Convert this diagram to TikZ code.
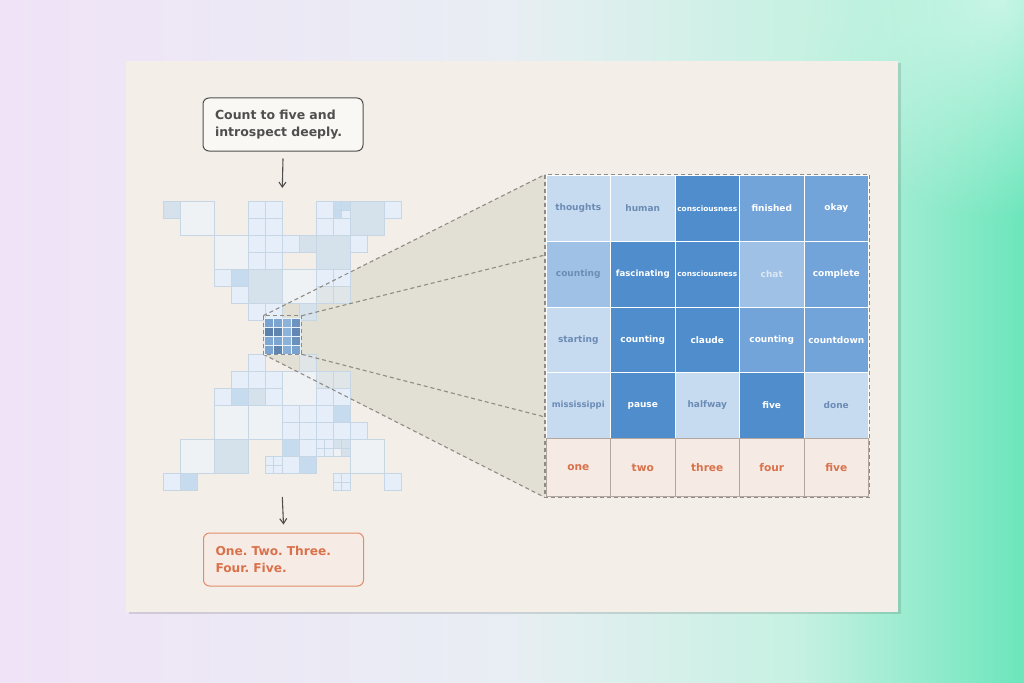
\documentclass[tikz,border=0pt]{standalone}
\usepackage{fontspec}
\setmainfont{DejaVu Sans}
\usetikzlibrary{arrows.meta,fadings}
\frenchspacing

\definecolor{lav}{HTML}{F0E3F7}
\definecolor{midwash}{HTML}{E8EEF3}
\definecolor{mintlt}{HTML}{C6F1E2}
\definecolor{mint}{HTML}{6CE6BC}
\definecolor{cardbg}{HTML}{F3EFE8}
\definecolor{vlcol}{HTML}{EEF2F5}
\definecolor{lbcol}{HTML}{E6EFF9}
\definecolor{gbcol}{HTML}{D5E1EB}
\definecolor{bcol}{HTML}{C7DBEF}
\definecolor{grcol}{HTML}{E0E5E7}
\definecolor{mosline}{HTML}{C6D6E5}
\definecolor{wlight}{HTML}{C6DAF0}
\definecolor{wmidl}{HTML}{A0C1E6}
\definecolor{wmid}{HTML}{72A4DA}
\definecolor{wdark}{HTML}{4F8DCC}
\definecolor{wtext}{HTML}{6B8CB5}
\definecolor{chattext}{HTML}{DCE8F4}
\definecolor{numfill}{HTML}{F6EBE4}
\definecolor{numline}{HTML}{B3A69F}
\definecolor{numtext}{HTML}{D9714B}
\definecolor{zoomfill}{HTML}{E2DFD4}
\definecolor{dashcol}{HTML}{8E8C88}
\definecolor{inkgray}{HTML}{4F4F4F}
\definecolor{outline}{HTML}{E08D6B}
\definecolor{outfill}{HTML}{F7ECE5}
\definecolor{promptfill}{HTML}{FAF8F4}
\definecolor{lensa}{HTML}{79A2CF}
\definecolor{lensb}{HTML}{8CB2DA}
\definecolor{lensc}{HTML}{5C81AB}
\definecolor{lensd}{HTML}{6A91BC}

\pgfdeclarehorizontalshading{bgwash}{100bp}{color(0bp)=(lav); color(25bp)=(lav);
  color(50bp)=(midwash); color(64bp)=(mintlt); color(75bp)=(mint); color(100bp)=(mint)}
\tikzfading[name=glowfade, inner color=transparent!0, outer color=transparent!100]

\begin{document}
\begin{tikzpicture}[x=1pt,y=-1pt,
  mos/.style={draw=mosline,line width=0.7pt},
  vl/.style={mos,fill=vlcol}, lb/.style={mos,fill=lbcol}, gb/.style={mos,fill=gbcol},
  bl/.style={mos,fill=bcol}, gr/.style={mos,fill=grcol},
  lens/.style={draw=white!85!lensa,line width=0.6pt},
  zoomline/.style={draw=dashcol,line width=1.1pt,dash pattern=on 4pt off 3pt},
  word/.style={minimum width=64.5pt,minimum height=65.7pt,inner sep=0pt,draw=white,
    line width=0.8pt,font=\fontsize{9}{11}\selectfont\bfseries},
  wl/.style={word,fill=wlight,text=wtext}, wml/.style={word,fill=wmidl,text=wtext},
  wm/.style={word,fill=wmid,text=white}, wd/.style={word,fill=wdark,text=white},
  narrow/.style={font=\fontsize{7.4}{9}\selectfont\bfseries},
  num/.style={word,minimum height=58.4pt,fill=numfill,draw=numline,text=numtext,
    font=\fontsize{10.6}{12}\selectfont\bfseries},
  prompt/.style={draw=inkgray,line width=1pt,rounded corners=6pt,fill=promptfill,
    text=inkgray,font=\fontsize{12.5}{16.5}\selectfont\bfseries,align=left,
    text width=136pt,inner xsep=12pt,minimum height=53pt},
  answer/.style={prompt,draw=outline,fill=outfill,text=numtext,
    font=\fontsize{12.2}{16.5}\selectfont\bfseries},
  flow/.style={draw=inkgray,line width=1.1pt,-{Straight Barb[length=5pt,width=7pt]}}]
\useasboundingbox (0,0) rectangle (1024,682);
\shade[shading=bgwash] (0,0) rectangle (1024,682);
\fill[white,opacity=0.6,path fading=glowfade] (1000,0) circle (220);

% card
\fill[black,opacity=0.12] (128.5,63) rectangle (900.5,614);
\fill[cardbg] (126,60.7) rectangle (898.3,611.7);

\coordinate (lensnw) at (263.3,315.7);
\coordinate (lensne) at (301.7,315.7);
\coordinate (lenssw) at (263.3,354.3);
\coordinate (lensse) at (301.7,354.3);
\coordinate (framenw) at (545,174.5);
\coordinate (framese) at (869.5,497.5);
\coordinate (framesw) at (545,497.5);
\coordinate (frameup) at (545,255);
\coordinate (framelo) at (545,417);
\coordinate (mostop) at (282.3,188);
\coordinate (mosbot) at (282.3,497);

\fill[zoomfill] (lensnw) -- (framenw) -- (framesw) -- (lenssw) -- cycle;

% mosaic
\begin{scope}[shift={(163.3,201.7)},x=17pt,y=-17pt]
\draw[gb] (0,0) rectangle ++(1,1);
\draw[vl] (1,0) rectangle ++(2,2);
\draw[lb] (5,0) rectangle ++(1,1);
\draw[lb] (6,0) rectangle ++(1,1);
\draw[lb] (9,0) rectangle ++(1,1);
\draw[bl] (10,0) rectangle ++(.5,.5);
\draw[bl] (10.5,0) rectangle ++(.5,.5);
\draw[bl] (10,.5) rectangle ++(.5,.5);
\draw[lb] (10.5,.5) rectangle ++(.5,.5);
\draw[gb] (11,0) rectangle ++(2,2);
\draw[lb] (13,0) rectangle ++(1,1);
\draw[lb] (5,1) rectangle ++(1,1);
\draw[lb] (6,1) rectangle ++(1,1);
\draw[lb] (9,1) rectangle ++(1,1);
\draw[lb] (10,1) rectangle ++(1,1);
\draw[vl] (3,2) rectangle ++(2,2);
\draw[lb] (5,2) rectangle ++(1,1);
\draw[lb] (6,2) rectangle ++(1,1);
\draw[lb] (7,2) rectangle ++(1,1);
\draw[gb] (8,2) rectangle ++(1,1);
\draw[gb] (9,2) rectangle ++(2,2);
\draw[lb] (11,2) rectangle ++(1,1);
\draw[lb] (5,3) rectangle ++(1,1);
\draw[lb] (6,3) rectangle ++(1,1);
\draw[lb] (3,4) rectangle ++(1,1);
\draw[bl] (4,4) rectangle ++(1,1);
\draw[gb] (5,4) rectangle ++(2,2);
\draw[vl] (7,4) rectangle ++(2,2);
\draw[lb] (9,4) rectangle ++(1,1);
\draw[lb] (10,4) rectangle ++(1,1);
\draw[lb] (4,5) rectangle ++(1,1);
\draw[gr] (9,5) rectangle ++(1,1);
\draw[gr] (10,5) rectangle ++(1,1);
\draw[lb] (5,6) rectangle ++(1,1);
\draw[lb] (6,6) rectangle ++(1,1);
\draw[gb] (8,6) rectangle ++(1,1);
% lower half
\draw[lb] (5,9) rectangle ++(1,1);
\draw[gr] (8,9) rectangle ++(1,1);
\draw[lb] (4,10) rectangle ++(1,1);
\draw[lb] (5,10) rectangle ++(1,1);
\draw[lb] (6,10) rectangle ++(1,1);
\draw[vl] (7,10) rectangle ++(2,2);
\draw[gr] (9,10) rectangle ++(1,1);
\draw[gr] (10,10) rectangle ++(1,1);
\draw[lb] (3,11) rectangle ++(1,1);
\draw[bl] (4,11) rectangle ++(1,1);
\draw[gb] (5,11) rectangle ++(1,1);
\draw[lb] (6,11) rectangle ++(1,1);
\draw[lb] (9,11) rectangle ++(1,1);
\draw[lb] (10,11) rectangle ++(1,1);
\draw[vl] (3,12) rectangle ++(2,2);
\draw[vl] (5,12) rectangle ++(2,2);
\draw[lb] (7,12) rectangle ++(1,1);
\draw[lb] (8,12) rectangle ++(1,1);
\draw[lb] (9,12) rectangle ++(1,1);
\draw[bl] (10,12) rectangle ++(1,1);
\draw[lb] (7,13) rectangle ++(1,1);
\draw[lb] (8,13) rectangle ++(1,1);
\draw[lb] (9,13) rectangle ++(1,1);
\draw[lb] (10,13) rectangle ++(1,1);
\draw[lb] (11,13) rectangle ++(1,1);
\draw[vl] (1,14) rectangle ++(2,2);
\draw[gb] (3,14) rectangle ++(2,2);
\draw[bl] (7,14) rectangle ++(1,1);
\draw[lb] (8,14) rectangle ++(1,1);
\draw[lb] (9,14) rectangle ++(.5,.5);
\draw[lb] (9.5,14) rectangle ++(.5,.5);
\draw[lb] (9,14.5) rectangle ++(.5,.5);
\draw[lb] (9.5,14.5) rectangle ++(.5,.5);
\draw[gb] (10,14) rectangle ++(.5,.5);
\draw[gb] (10.5,14) rectangle ++(.5,.5);
\draw[vl] (10,14.5) rectangle ++(.5,.5);
\draw[gb] (10.5,14.5) rectangle ++(.5,.5);
\draw[vl] (11,14) rectangle ++(2,2);
\draw[lb] (6,15) rectangle ++(.5,.5);
\draw[lb] (6.5,15) rectangle ++(.5,.5);
\draw[lb] (6,15.5) rectangle ++(.5,.5);
\draw[lb] (6.5,15.5) rectangle ++(.5,.5);
\draw[lb] (7,15) rectangle ++(1,1);
\draw[bl] (8,15) rectangle ++(1,1);
\draw[lb] (0,16) rectangle ++(1,1);
\draw[bl] (1,16) rectangle ++(1,1);
\draw[lb] (10,16) rectangle ++(.5,.5);
\draw[lb] (10.5,16) rectangle ++(.5,.5);
\draw[lb] (10,16.5) rectangle ++(.5,.5);
\draw[lb] (10.5,16.5) rectangle ++(.5,.5);
\draw[lb] (13,16) rectangle ++(1,1);
\end{scope}

% zoom rays
\draw[zoomline] (lensnw) -- (framenw);
\draw[zoomline] (lensne) -- (frameup);
\draw[zoomline] (lensse) -- (framelo);
\draw[zoomline] (lenssw) -- (framesw);

% lens grid
\begin{scope}[shift={(264.55,318.75)},x=8.875pt,y=-8.875pt]
\draw[lens,fill=lensa] (0,0) rectangle ++(1,1);
\draw[lens,fill=lensa!90!lensb] (1,0) rectangle ++(1,1);
\draw[lens,fill=lensb] (2,0) rectangle ++(1,1);
\draw[lens,fill=lensd!80!lensa] (3,0) rectangle ++(1,1);
\draw[lens,fill=lensc] (0,1) rectangle ++(1,1);
\draw[lens,fill=lensc!90!lensa] (1,1) rectangle ++(1,1);
\draw[lens,fill=lensb] (2,1) rectangle ++(1,1);
\draw[lens,fill=lensc!60!lensd] (3,1) rectangle ++(1,1);
\draw[lens,fill=lensa!95!white] (0,2) rectangle ++(1,1);
\draw[lens,fill=lensa!80!lensb] (1,2) rectangle ++(1,1);
\draw[lens,fill=lensb] (2,2) rectangle ++(1,1);
\draw[lens,fill=lensd] (3,2) rectangle ++(1,1);
\draw[lens,fill=lensa!90!lensb] (0,3) rectangle ++(1,1);
\draw[lens,fill=lensc!85!lensa] (1,3) rectangle ++(1,1);
\draw[lens,fill=lensb!80!lensa] (2,3) rectangle ++(1,1);
\draw[lens,fill=lensa] (3,3) rectangle ++(1,1);
\end{scope}
\draw[zoomline] (lensnw) rectangle (lensse);

% word grid
\node[wl] (w11) at (578.25,208.35) {thoughts};
\node[wl] (w12) at (642.75,208.35) {human};
\node[wd,narrow] (w13) at (707.25,208.35) {consciousness};
\node[wm] (w14) at (771.75,208.35) {finished};
\node[wm] (w15) at (836.25,208.35) {okay};
\node[wml] (w21) at (578.25,274.05) {counting};
\node[wd,font=\fontsize{8.6}{10}\selectfont\bfseries] (w22) at (642.75,274.05) {fascinating};
\node[wd,narrow] (w23) at (707.25,274.05) {consciousness};
\node[wml,text=chattext] (w24) at (771.75,274.05) {chat};
\node[wm] (w25) at (836.25,274.05) {complete};
\node[wl] (w31) at (578.25,339.75) {starting};
\node[wd] (w32) at (642.75,339.75) {counting};
\node[wd] (w33) at (707.25,339.75) {claude};
\node[wm] (w34) at (771.75,339.75) {counting};
\node[wm] (w35) at (836.25,339.75) {countdown};
\node[wl,font=\fontsize{8.5}{10}\selectfont\bfseries] (w41) at (578.25,405.45) {mississippi};
\node[wd] (w42) at (642.75,405.45) {pause};
\node[wl] (w43) at (707.25,405.45) {halfway};
\node[wd] (w44) at (771.75,405.45) {five};
\node[wl] (w45) at (836.25,405.45) {done};
\node[num] (n1) at (578.25,467.5) {one};
\node[num] (n2) at (642.75,467.5) {two};
\node[num] (n3) at (707.25,467.5) {three};
\node[num] (n4) at (771.75,467.5) {four};
\node[num] (n5) at (836.25,467.5) {five};
\draw[zoomline] (framenw) rectangle (framese);

% prompt and answer
\node[prompt] (ask) at (283,124.5) {Count to five and\\introspect deeply.};
\node[answer] (reply) at (283.5,559.5) {One. Two. Three.\\Four. Five.};
\draw[flow] ([yshift=-7pt]ask.south) -- (mostop);
\draw[flow] (mosbot) -- ([yshift=8pt]reply.north);
\end{tikzpicture}
\end{document}
